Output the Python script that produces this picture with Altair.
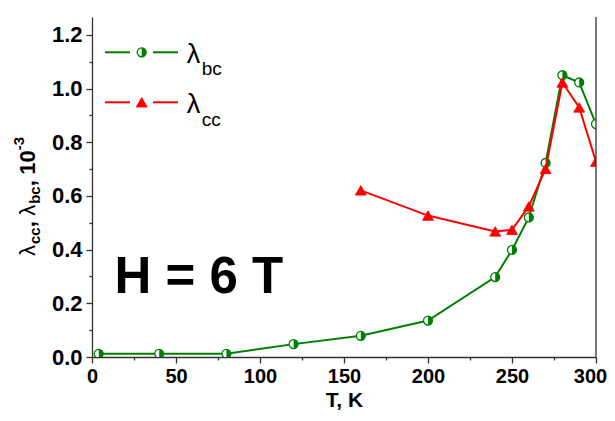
import altair as alt
import pandas as pd

# ---- data ----
T_bc = [4, 40, 80, 120, 160, 200, 240, 250, 260, 270, 280, 290, 300]
lam_bc = [0.012, 0.012, 0.012, 0.048, 0.079, 0.136, 0.298, 0.399, 0.520, 0.723, 1.050, 1.023, 0.868]
T_cc = [160, 200, 240, 250, 260, 270, 280, 290, 300]
lam_cc = [0.621, 0.527, 0.468, 0.474, 0.561, 0.701, 1.023, 0.930, 0.728]
x_ticks = [0, 25, 50, 75, 100, 125, 150, 175, 200, 225, 250, 275, 300]
y_ticks = [0.0, 0.1, 0.2, 0.3, 0.4, 0.5, 0.6, 0.7, 0.8, 0.9, 1.0, 1.1, 1.2]
annotation = "H = 6 T"
x_title = "T, K"

GREEN = "#008000"
RED = "#ff0000"
AX = "#333333"
FONT = "Liberation Sans"
W, H = 504, 340
HALF = "M0,-1 A1,1 0 0,1 0,1 Z"

bc = pd.DataFrame({"T": T_bc, "v": lam_bc})
cc = pd.DataFrame({"T": T_cc, "v": lam_cc})
one = pd.DataFrame({"k": [0]})

xs = alt.Scale(domain=[0, 300], nice=False, zero=False)
ys = alt.Scale(domain=[0, 1.267], nice=False, zero=False)

xaxis = alt.Axis(
    values=x_ticks, format="d",
    labelExpr="datum.value % 50 === 0 ? datum.label : ''",
    tickSize={"condition": {"test": "datum.value % 50 === 0", "value": 6}, "value": 3},
    labelOffset={"condition": {"test": "datum.value === 300", "value": -6}, "value": 0},
    title=x_title, labelFlush=False, labelOverlap=False, grid=False,
    labelPadding=3, titlePadding=3, labelFontSize=20,
)
yaxis = alt.Axis(
    values=y_ticks,
    labelExpr="round(datum.value*10) % 2 === 0 ? format(datum.value, '.1f') : ''",
    tickSize={"condition": {"test": "round(datum.value*10) % 2 === 0", "value": 6}, "value": 3},
    title=None, labelOverlap=False, grid=False, labelPadding=4, labelFontSize=22,
)
X = alt.X("T:Q", scale=xs, axis=xaxis)
Y = alt.Y("v:Q", scale=ys, axis=yaxis)

MS = 80
green_line = alt.Chart(bc).mark_line(color=GREEN, strokeWidth=2, clip=True).encode(x=X, y=Y)
green_circ = alt.Chart(bc).mark_point(shape="circle", filled=True, fill="white", stroke=GREEN,
                                      strokeWidth=1.3, size=MS, opacity=1, clip=True).encode(x=X, y=Y)
green_half = alt.Chart(bc).mark_point(shape=HALF, filled=True, fill=GREEN, strokeWidth=0,
                                      size=MS, opacity=1, clip=True).encode(x=X, y=Y)
red_line = alt.Chart(cc).mark_line(color=RED, strokeWidth=2, clip=True).encode(x=X, y=Y)
red_tri = alt.Chart(cc).mark_point(shape="triangle-up", filled=True, fill=RED, stroke=RED,
                                   strokeWidth=0.8, size=120, opacity=1, clip=True).encode(x=X, y=Y)

right_rule = alt.Chart(one).mark_rule(color=AX, strokeWidth=1.3).encode(
    x=alt.value(W), y=alt.value(0), y2=alt.value(H))


def seg(color, x1, x2, y):
    return alt.Chart(one).mark_rule(color=color, strokeWidth=2).encode(
        x=alt.value(x1), x2=alt.value(x2), y=alt.value(y))


def txt(s, x, y, size, weight="normal", angle=0):
    return alt.Chart(one).mark_text(text=s, font=FONT, fontSize=size, fontWeight=weight,
                                    align="left", baseline="alphabetic", color="black",
                                    angle=angle).encode(x=alt.value(x), y=alt.value(y))


# legend
r1, r2 = 35.3, 85.3
legend = [
    seg(GREEN, 13, 38, r1), seg(GREEN, 61, 86, r1),
    alt.Chart(one).mark_point(shape="circle", filled=True, fill="white", stroke=GREEN,
                              strokeWidth=1.3, size=MS, opacity=1).encode(x=alt.value(49.7), y=alt.value(r1)),
    alt.Chart(one).mark_point(shape=HALF, filled=True, fill=GREEN, strokeWidth=0,
                              size=MS, opacity=1).encode(x=alt.value(49.7), y=alt.value(r1)),
    txt("λ", 94.7, 46.3, 27), txt("bc", 109.7, 58, 19),
    seg(RED, 13, 38, r2), seg(RED, 61, 86, r2),
    alt.Chart(one).mark_point(shape="triangle-up", filled=True, fill=RED, stroke=RED,
                              strokeWidth=0.8, size=120, opacity=1).encode(x=alt.value(49.7), y=alt.value(r2)),
    txt("λ", 94.7, 96.3, 27), txt("cc", 109.7, 109, 19),
]

# rotated y title built from pieces: (text, size, weight, baseline shift, advance)
base_x = -57
pieces = [
    ("λ", 22, "normal", 0, 12),
    ("cc", 15, "bold", 5, 16.7),
    (",", 22, "bold", 0, 11.5),
    ("λ", 22, "normal", 0, 12),
    ("bc", 15, "bold", 5, 17.5),
    (",", 22, "bold", 0, 11.5),
    ("10", 22, "bold", 0, 24.5),
    ("-3", 15, "bold", -11, 13),
]
ytitle = []
pos = 239
for s, sz, wt, sh, adv in pieces:
    ytitle.append(txt(s, base_x + sh, pos, sz, wt, 270))
    pos -= adv

hlabel = txt(annotation, 22.5, 276.3, 51, "bold")

chart = alt.layer(
    green_line, green_circ, green_half, red_line, red_tri, right_rule, hlabel,
    *legend, *ytitle,
).properties(
    width=W, height=H,
    autosize=alt.AutoSizeParams(type="none"),
    padding={"left": 84, "top": 9, "right": 11, "bottom": 56},
).configure_axis(
    domainColor=AX, domainWidth=1.3, tickColor=AX, tickWidth=1.3,
    labelFont=FONT, labelFontSize=20, labelFontWeight="bold", labelColor="black",
    titleFont=FONT, titleFontSize=21, titleFontWeight="bold", titleColor="black",
).configure_view(stroke=None)

chart.save("out.html", embed_options={"renderer": "svg", "actions": False})
